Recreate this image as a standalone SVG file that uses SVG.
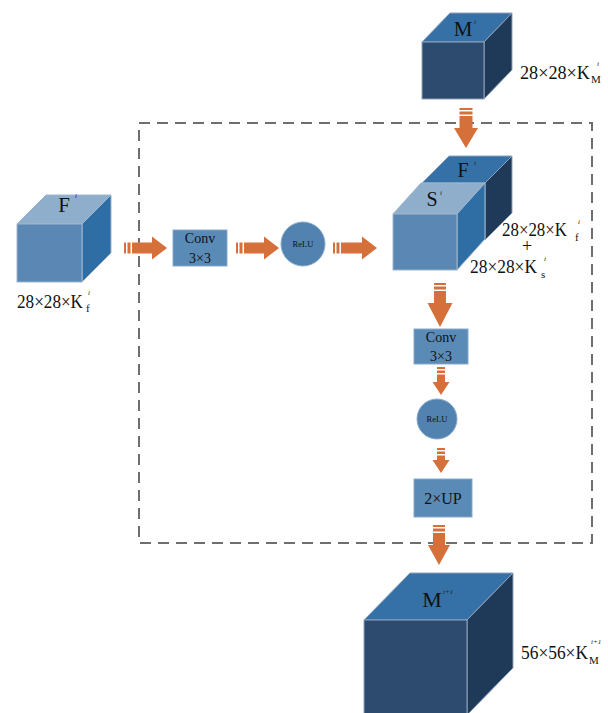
<svg xmlns="http://www.w3.org/2000/svg" width="608" height="713" viewBox="0 0 608 713">
<style>
.t{font-family:"Liberation Serif","Times New Roman",serif;fill:#111}
.sup{font-family:"Liberation Serif",serif;font-style:italic;font-size:7px;fill:#222}
.arr{fill:#d6703b}
.frontD{fill:#2c4b6f;stroke:#8ea3ba;stroke-width:1}
.topD{fill:#3571a6;stroke:#8ea3ba;stroke-width:1}
.rightD{fill:#1f3a59;stroke:#8ea3ba;stroke-width:1}
.frontL{fill:#5a87b3;stroke:#9fb6cc;stroke-width:1}
.topL{fill:#8faecb;stroke:#9fb6cc;stroke-width:1}
.rightL{fill:#2f6ea5;stroke:#9fb6cc;stroke-width:1}
.box{fill:#5a8ab6;stroke:#86a9cb;stroke-width:1}
.circ{fill:#5283b0;stroke:#86a9cb;stroke-width:1}
</style>
<rect width="608" height="713" fill="#ffffff"/>
<rect id="frame" x="139" y="123" width="453" height="420" fill="none" stroke="#6e6e6e" stroke-width="2" stroke-dasharray="11 7"/>

<g id="M_top">
<polygon class="topD" points="422,42 484,42 512,13 450,13"/>
<polygon class="rightD" points="484,42 512,13 512,70 484,99"/>
<rect class="frontD" x="422" y="42" width="62" height="57"/>
<text class="t" x="463" y="36" font-size="21" text-anchor="middle">M</text>
<text class="sup" x="474" y="24">i</text>
<text class="t" x="520" y="79" font-size="19" textLength="70" lengthAdjust="spacingAndGlyphs">28×28×K</text>
<text class="t" x="591" y="83" font-size="11">M</text>
<text class="sup" x="597" y="66">i</text>
</g>

<g id="F_left">
<polygon class="topL" points="17,224 82,224 111,195 46,195"/>
<polygon class="rightL" points="82,224 111,195 111,253 82,282"/>
<rect class="frontL" x="17" y="224" width="65" height="58"/>
<text class="t" x="64" y="212" font-size="21" text-anchor="middle">F</text>
<text class="sup" x="75" y="198">i</text>
<text class="t" x="17" y="308" font-size="19" textLength="66" lengthAdjust="spacingAndGlyphs">28×28×K</text>
<text class="t" x="86" y="312" font-size="11">f</text>
<text class="sup" x="88" y="295">i</text>
</g>

<g id="conv1">
<rect class="box" x="173" y="230" width="54" height="36"/>
<text class="t" x="200" y="243" font-size="14" text-anchor="middle">Conv</text>
<text class="t" x="200" y="263" font-size="14" text-anchor="middle">3×3</text>
</g>

<g id="relu1">
<circle class="circ" cx="303" cy="244" r="22"/>
<text class="t" x="303" y="247" font-size="8.5" text-anchor="middle">ReLU</text>
</g>

<g id="FS_cube">
<polygon class="topD" points="422,183 485,183 512,156 449,156"/>
<polygon class="rightD" points="485,183 512,156 512,213 485,240"/>
<text class="t" x="463" y="177" font-size="20" text-anchor="middle">F</text>
<text class="sup" x="474" y="165">i</text>
<polygon class="topL" points="393,214 457,214 485,183 421,183"/>
<polygon class="rightL" points="457,214 485,183 485,239 457,270"/>
<rect class="frontL" x="393" y="214" width="64" height="56"/>
<text class="t" x="432" y="206" font-size="20" text-anchor="middle">S</text>
<text class="sup" x="440" y="195">i</text>
<text class="t" x="502" y="236" font-size="18" textLength="65" lengthAdjust="spacingAndGlyphs">28×28×K</text>
<text class="t" x="575" y="241" font-size="11">f</text>
<text class="sup" x="578" y="224">i</text>
<text class="t" x="527" y="252" font-size="18" text-anchor="middle">+</text>
<text class="t" x="470" y="273" font-size="18" textLength="67" lengthAdjust="spacingAndGlyphs">28×28×K</text>
<text class="t" x="541" y="278" font-size="11">s</text>
<text class="sup" x="544" y="261">i</text>
</g>

<g id="conv2">
<rect class="box" x="414" y="329" width="54" height="35"/>
<text class="t" x="441" y="342" font-size="14" text-anchor="middle">Conv</text>
<text class="t" x="441" y="361" font-size="14" text-anchor="middle">3×3</text>
</g>

<g id="relu2">
<circle class="circ" cx="437" cy="419" r="20"/>
<text class="t" x="437" y="422" font-size="8.5" text-anchor="middle">ReLU</text>
</g>

<g id="up">
<rect class="box" x="414" y="479" width="58" height="38"/>
<text class="t" x="443" y="504" font-size="16" text-anchor="middle">2×UP</text>
</g>

<g id="M_bottom">
<polygon class="topD" points="364,620 467,620 513,573 410,573"/>
<polygon class="rightD" points="467,620 513,573 513,668 467,715"/>
<rect class="frontD" x="364" y="620" width="103" height="95"/>
<text class="t" x="432" y="607" font-size="22" text-anchor="middle">M</text>
<text class="sup" x="443" y="594" font-size="6">i+1</text>
<text class="t" x="521" y="659" font-size="19" textLength="67" lengthAdjust="spacingAndGlyphs">56×56×K</text>
<text class="t" x="589" y="664" font-size="11">M</text>
<text class="sup" x="591" y="644" font-size="6">i+1</text>
</g>

<g id="connectors">
<path class="arr" d="M124 242.5h2v11h-2z M127.5 242.5h3v11h-3z M132 242.5H152V236.5L167 248L152 259.5V253.5H132z"/>
<path class="arr" d="M236 242.5h2v11h-2z M239.5 242.5h3v11h-3z M244 242.5H264V236.5L279 248L264 259.5V253.5H244z"/>
<path class="arr" d="M333 242.5h2v11h-2z M336.5 242.5h3v11h-3z M341 242.5H362V236.5L377 248L362 259.5V253.5H341z"/>
<path class="arr" d="M459.5 108h13v2h-13z M459.5 111.5h13v3h-13z M459.5 116H472.5V128H478L466 148L454 128H459.5Z"/>
<path class="arr" d="M434 283h12v2h-12z M434 286.5h12v3h-12z M434 291H446V303H452.5L440 327L427.5 303H434Z"/>
<path class="arr" d="M437 367h8v2h-8z M437 370.5h8v2.5h-8z M437 374.5H445V382H449.5L441 395L432.5 382H437Z"/>
<path class="arr" d="M437 448h8v2h-8z M437 451.5h8v2.5h-8z M437 455.5H445V460H449.5L441 473L432.5 460H437Z"/>
<path class="arr" d="M433 525h12v2h-12z M433 528.5h12v3h-12z M433 533H445V545H450L439 565L428 545H433Z"/>
</g>
</svg>
